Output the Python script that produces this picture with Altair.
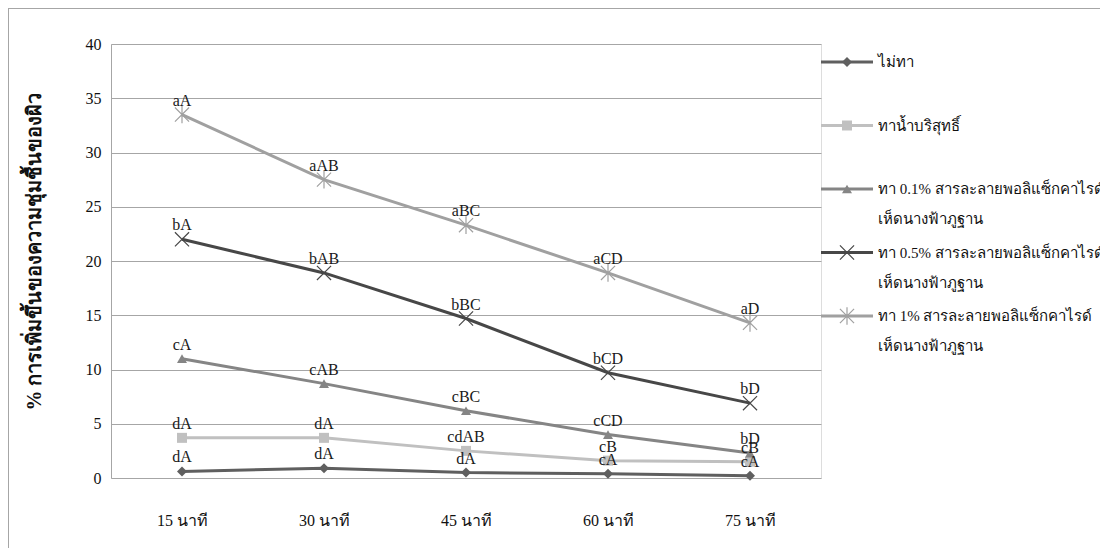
import altair as alt
import pandas as pd

times = ["15 นาที", "30 นาที", "45 นาที", "60 นาที", "75 นาที"]
series = [
    "ไม่ทา",
    "ทาน้ำบริสุทธิ์",
    "ทา 0.1% สารละลายพอลิแซ็กคาไรด์ เห็ดนางฟ้าภูฐาน",
    "ทา 0.5% สารละลายพอลิแซ็กคาไรด์ เห็ดนางฟ้าภูฐาน",
    "ทา 1% สารละลายพอลิแซ็กคาไรด์ เห็ดนางฟ้าภูฐาน",
]
legend_labels = [
    "ไม่ทา",
    "ทาน้ำบริสุทธิ์",
    "ทา 0.1% สารละลายพอลิแซ็กคาไรด์\nเห็ดนางฟ้าภูฐาน",
    "ทา 0.5% สารละลายพอลิแซ็กคาไรด์\nเห็ดนางฟ้าภูฐาน",
    "ทา 1% สารละลายพอลิแซ็กคาไรด์\nเห็ดนางฟ้าภูฐาน",
]
v_none = [0.6, 0.9, 0.5, 0.4, 0.2]
v_water = [3.7, 3.7, 2.5, 1.6, 1.5]
v_01 = [11.0, 8.7, 6.2, 4.0, 2.3]
v_05 = [22.0, 18.9, 14.7, 9.7, 6.9]
v_1 = [33.5, 27.5, 23.3, 18.9, 14.3]
l_none = ["dA", "dA", "dA", "cA", "cA"]
l_water = ["dA", "dA", "cdAB", "cB", "cB"]
l_01 = ["cA", "cAB", "cBC", "cCD", "bD"]
l_05 = ["bA", "bAB", "bBC", "bCD", "bD"]
l_1 = ["aA", "aAB", "aBC", "aCD", "aD"]

colors = ["#5f5f5f", "#c0c0c0", "#858585", "#474747", "#a0a0a0"]
x_path = "M-1,-1L1,1M-1,1L1,-1"
ast_path = "M-1,-1L1,1M-1,1L1,-1M0,-1.25L0,1.25"
shapes = ["diamond", "square", "triangle-up", x_path, ast_path]
filled_series = series[:3]
stroked_series = series[3:]

rows = []
for s, vals, labs in zip(series, [v_none, v_water, v_01, v_05, v_1],
                         [l_none, l_water, l_01, l_05, l_1]):
    for t, v, l in zip(times, vals, labs):
        rows.append({"time": t, "series": s, "value": v, "label": l})
df = pd.DataFrame(rows)

leg = pd.DataFrame({"series": series, "text": legend_labels})

FONT = "Liberation Serif"
W, H = 710, 434

xenc = alt.X("time:N", sort=times, scale=alt.Scale(type="point", padding=0.5),
             axis=alt.Axis(title=None, labelFontSize=16, labelFont=FONT, labelColor="#111",
                           labelPadding=34, ticks=False, domain=False, grid=False, labelAngle=0))
yenc = alt.Y("value:Q", scale=alt.Scale(domain=[0, 40], nice=False),
             axis=alt.Axis(values=[0, 5, 10, 15, 20, 25, 30, 35, 40],
                           title="% การเพิ่มขึ้นของความชุ่มชื้นของผิว",
                           titleFontSize=20, titleFontWeight="bold", titleFont=FONT,
                           titleColor="#111", titleX=-77, titleY=207, titleBaseline="middle",
                           titleAlign="center", titleAngle=-90,
                           labelFontSize=16, labelFont=FONT, labelColor="#111",
                           labelPadding=10, ticks=False, domainColor="#a6a6a6",
                           gridColor="#a6a6a6", gridWidth=1))
cenc = alt.Color("series:N", scale=alt.Scale(domain=series, range=colors), legend=None)
shenc = alt.Shape("series:N", scale=alt.Scale(domain=series, range=shapes), legend=None)

base = alt.Chart(df)
lines = base.mark_line(strokeWidth=3).encode(x=xenc, y=yenc, color=cenc, detail="series:N")
pts_f = base.transform_filter(
    alt.FieldOneOfPredicate(field="series", oneOf=filled_series)
).mark_point(filled=True, size=100, opacity=1).encode(x=xenc, y=yenc, color=cenc, shape=shenc)
pts_s = base.transform_filter(
    alt.FieldOneOfPredicate(field="series", oneOf=stroked_series)
).mark_point(filled=False, size=200, strokeWidth=1.2, opacity=1).encode(
    x=xenc, y=yenc, color=cenc, shape=shenc)
labels = base.mark_text(baseline="bottom", dy=-6, fontSize=16, font=FONT, color="#1a1a1a").encode(
    x=xenc, y=yenc, text="label:N")

main = alt.layer(lines, pts_f, pts_s, labels)

lx = alt.Scale(domain=[0, 1], range=[W, W + 52])
ly = alt.Scale(type="point", domain=series, range=[18, 272], padding=0)
lbase = alt.Chart(leg)
leg_line = lbase.mark_rule(strokeWidth=3).encode(
    x=alt.X(datum=0, scale=lx, axis=None), x2=alt.datum(1),
    y=alt.Y("series:N", scale=ly, axis=None), color=cenc)
leg_pf = lbase.transform_filter(
    alt.FieldOneOfPredicate(field="series", oneOf=filled_series)
).mark_point(filled=True, size=100, opacity=1).encode(
    x=alt.X(datum=0.5, scale=lx, axis=None), y=alt.Y("series:N", scale=ly, axis=None),
    color=cenc, shape=shenc)
leg_ps = lbase.transform_filter(
    alt.FieldOneOfPredicate(field="series", oneOf=stroked_series)
).mark_point(filled=False, size=200, strokeWidth=1.2, opacity=1).encode(
    x=alt.X(datum=0.5, scale=lx, axis=None), y=alt.Y("series:N", scale=ly, axis=None),
    color=cenc, shape=shenc)
leg_text = lbase.mark_text(align="left", baseline="alphabetic", dx=5, dy=5, fontSize=15,
                           font=FONT, color="#111", lineBreak="\n", lineHeight=30).encode(
    x=alt.X(datum=1, scale=lx, axis=None), y=alt.Y("series:N", scale=ly, axis=None),
    text="text:N")
legend = alt.layer(leg_line, leg_pf, leg_ps, leg_text)

frame = alt.Chart(pd.DataFrame({"a": [0]})).mark_rule(color="#a6a6a6", strokeWidth=1).encode(
    x=alt.value(-102.5), y=alt.value(-36), y2=alt.value(H + 80))
frame2 = alt.Chart(pd.DataFrame({"a": [0]})).mark_rule(color="#a6a6a6", strokeWidth=1).encode(
    x=alt.value(-102.5), x2=alt.value(W + 300), y=alt.value(-35.5))

chart = alt.layer(main, legend, frame, frame2).resolve_scale(
    x="independent", y="independent"
).properties(
    width=W, height=H,
    autosize=alt.AutoSizeParams(type="none"),
    padding={"left": 103, "top": 36, "right": 279, "bottom": 70},
).configure_view(stroke=None).configure(background="white")

chart.save("out.html", embed_options={"renderer": "svg", "actions": False})
